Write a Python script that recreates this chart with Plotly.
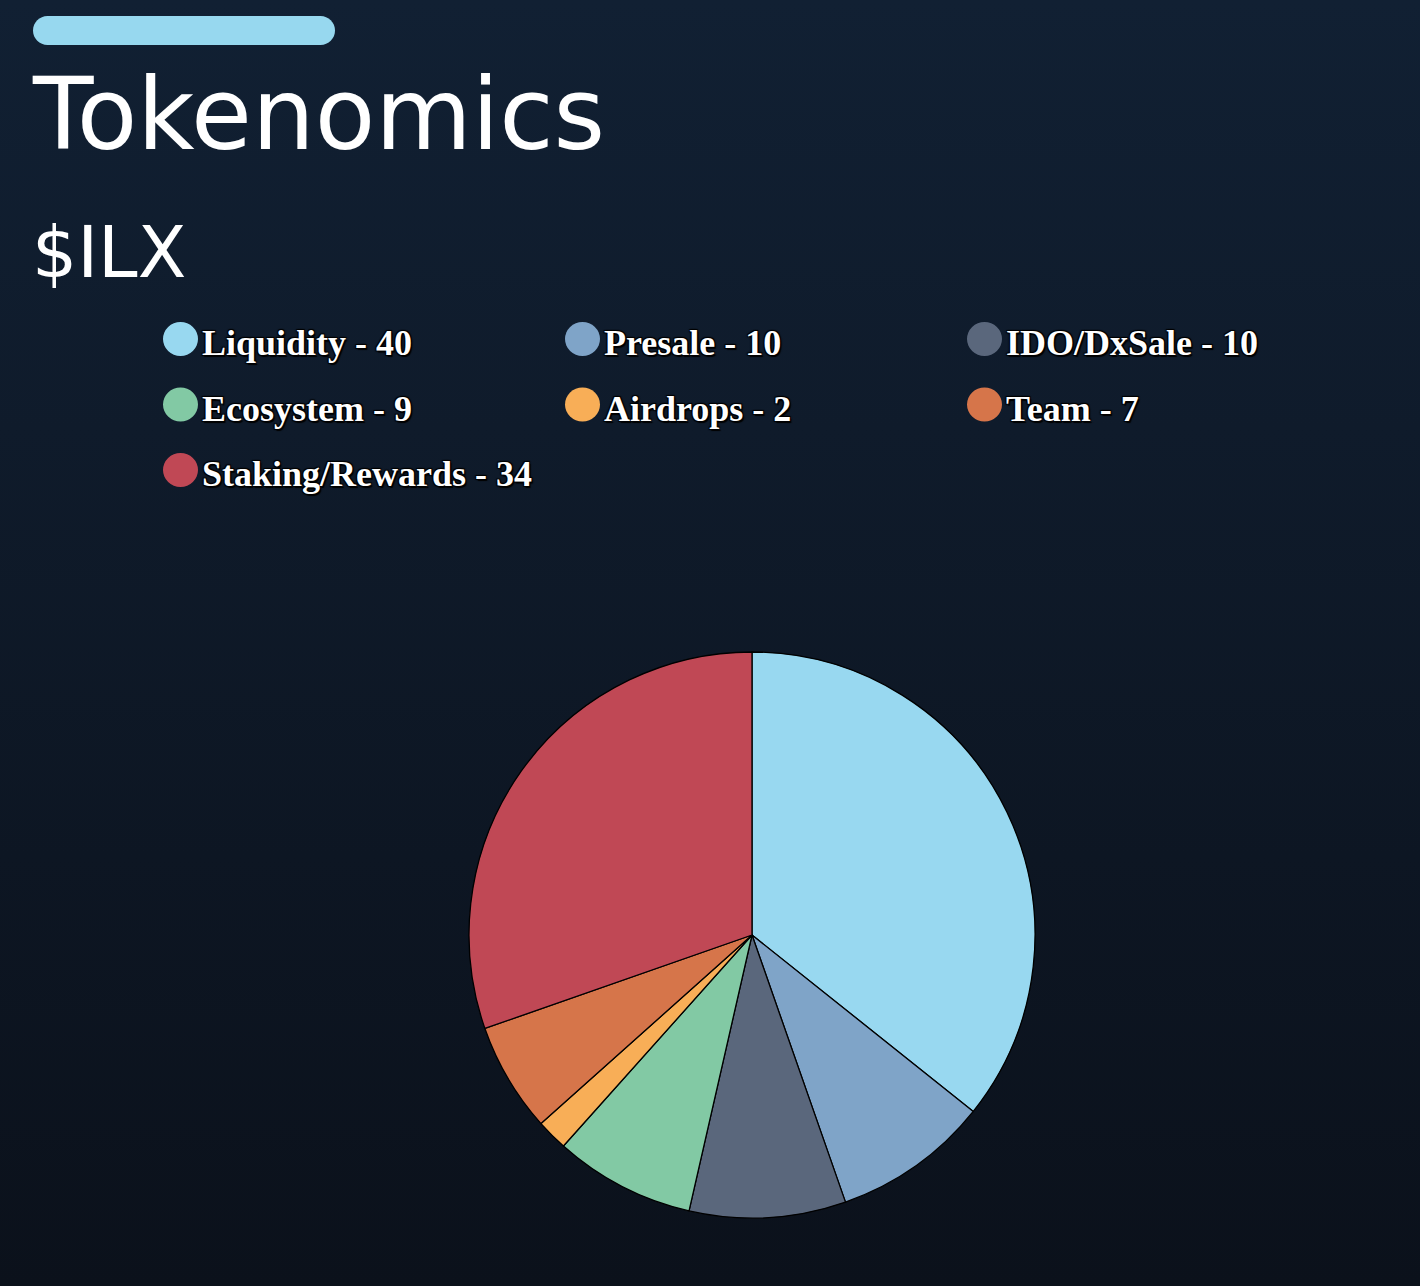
import plotly.graph_objects as go

labels = ["Liquidity", "Presale", "IDO/DxSale", "Ecosystem", "Airdrops", "Team", "Staking/Rewards"]
values = [40, 10, 10, 9, 2, 7, 34]
colors = ["#98d8f0", "#7fa4c8", "#5a677c", "#82c9a4", "#f8ae57", "#d6754a", "#c04855"]
title_text = "Tokenomics"
subtitle_text = "$ILX"

W, H = 1420, 1286
fig = go.Figure()

# background gradient
fig.add_trace(go.Scatter(
    x=[0, W, W, 0, 0], y=[0, 0, H, H, 0], mode="lines", line=dict(width=0),
    fill="toself",
    fillgradient=dict(type="vertical", start=0, stop=H,
                      colorscale=[[0, "#112033"], [1, "#0b111b"]]),
    hoverinfo="skip", showlegend=False, xaxis="x", yaxis="y"))

# pie
cx, cy, r = 752, 935, 283
fig.add_trace(go.Pie(
    labels=labels, values=values, sort=False, direction="clockwise", rotation=0,
    marker=dict(colors=colors, line=dict(color="#000000", width=1.3)),
    textinfo="none", showlegend=False,
    domain=dict(x=[(cx - r) / W, (cx + r) / W], y=[1 - (cy + r) / H, 1 - (cy - r) / H])))

shapes = []
# rounded title bar
x0, x1, y0, y1 = 33, 335, 16, 45
rr = (y1 - y0) / 2
k = 0.5523 * rr
path = (f"M {x0+rr},{y0} L {x1-rr},{y0} C {x1-rr+k},{y0} {x1},{y0+rr-k} {x1},{y0+rr} "
        f"C {x1},{y1-rr+k} {x1-rr+k},{y1} {x1-rr},{y1} L {x0+rr},{y1} "
        f"C {x0+rr-k},{y1} {x0},{y1-rr+k} {x0},{y0+rr} C {x0},{y0+rr-k} {x0+rr-k},{y0} {x0+rr},{y0} Z")
shapes.append(dict(type="path", path=path, xref="x", yref="y",
                   fillcolor="#97d8ef", line=dict(width=0), layer="above"))

annotations = [
    dict(text=title_text, x=30, y=114, xref="x", yref="y", xanchor="left", yanchor="middle",
         showarrow=False, font=dict(family="DejaVu Sans", size=99, color="#ffffff", weight=400)),
    dict(text=subtitle_text, x=30, y=252, xref="x", yref="y", xanchor="left", yanchor="middle",
         showarrow=False, font=dict(family="DejaVu Sans", size=71, color="#ffffff", weight=400)),
]

col_x = [163, 565, 967]
row_y0, row_dy = 339, 65.5
for i, (lab, val, col) in enumerate(zip(labels, values, colors)):
    c, rw = i % 3, i // 3
    lx = col_x[c]
    ly = row_y0 + rw * row_dy
    shapes.append(dict(type="circle", xref="x", yref="y", x0=lx, x1=lx + 35, y0=ly - 17, y1=ly + 17,
                       fillcolor=col, line=dict(width=0), layer="above"))
    annotations.append(dict(text=f"{lab} - {val}", x=lx + 37, y=ly + 4, xref="x", yref="y",
                            xanchor="left", yanchor="middle", showarrow=False,
                            font=dict(family="Liberation Serif", size=36, color="#ffffff", weight="bold",
                                      shadow="1.5px 1.5px 1px #000, -1px -1px 1px #000, 1px -1px 1px #000, -1px 1px 1px #000")))

fig.update_layout(
    width=W, height=H, margin=dict(l=0, r=0, t=0, b=0),
    paper_bgcolor="#0e1825", plot_bgcolor="rgba(0,0,0,0)",
    xaxis=dict(range=[0, W], visible=False, fixedrange=True),
    yaxis=dict(range=[H, 0], visible=False, fixedrange=True),
    shapes=shapes, annotations=annotations,
)

fig.write_html("out.html")
